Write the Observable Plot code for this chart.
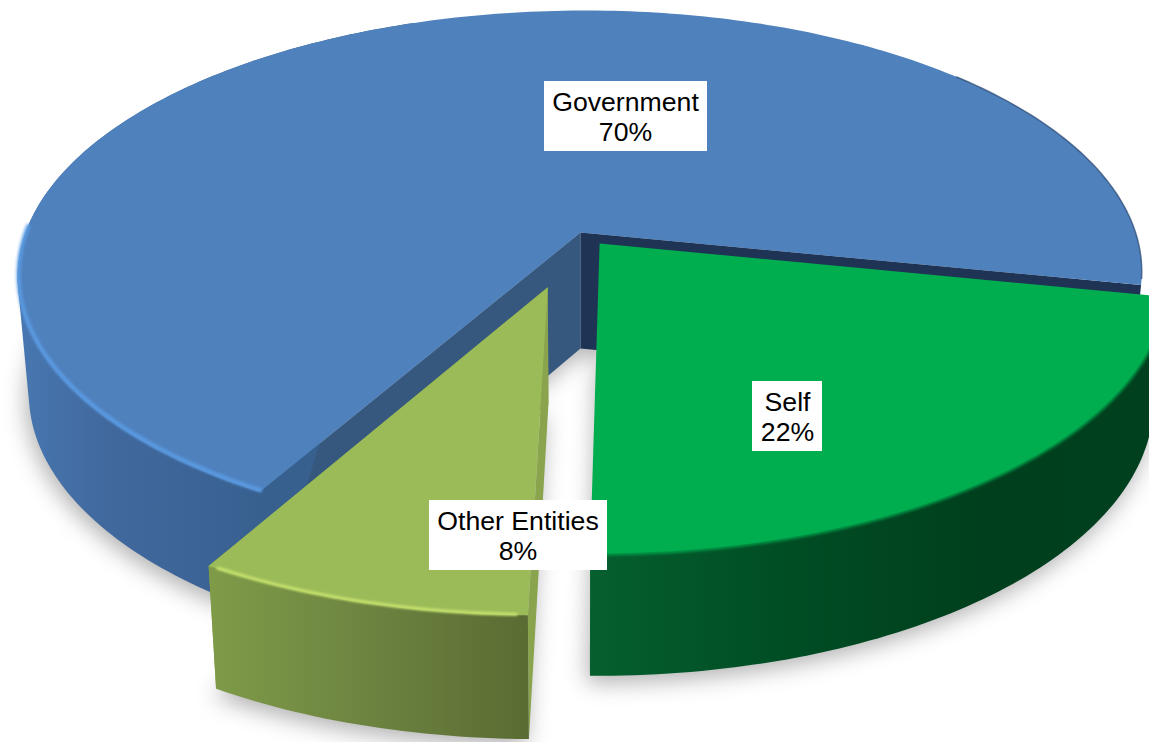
<!DOCTYPE html>
<html>
<head>
<meta charset="utf-8">
<script src="https://cdn.jsdelivr.net/npm/d3@7"></script>
<script src="https://cdn.jsdelivr.net/npm/@observablehq/plot@0.6"></script>
<style>
  html, body { margin: 0; padding: 0; background: #fff; }
  svg { display: block; }
</style>
</head>
<body>
<div id="chart"></div>
<script>
// Funding shares
const categories = ["Government", "Self", "Other Entities"];
const shares = [70, 22, 8];

// Exploded distance of each slice, as a fraction of the pie radius
const explosion = [0, 0.055, 0.213];

// Label boxes
const labelX = [625, 787, 517.5];
const labelY = [115.5, 415.5, 534.5];
const boxX = [625.5, 787, 518];
const boxY = [116, 416, 535];
const boxWidth = [163, 70, 178];
const boxHeight = 70;

// Flat, side and inner wall colours of each slice
const topColors = ["#4f81bd", "#00ae50", "#9bbb59"];
const rimColors = ["#5b9ce4", "#00a04a", "#c2de6c"];
const sideStops = [
  [[0, "#4877b1"], [0.35, "#41699e"], [1, "#38608f"]],
  [[0, "#055f2e"], [0.35, "#004d24"], [0.7, "#003f1d"], [1, "#00401e"]],
  [[0, "#7f9b48"], [0.5, "#6c8340"], [1, "#596b32"]]
];
const sideRanges = [[17, 262], [590, 1149], [210, 532]];
const wallColors = [["#1f3454", "#36587f"], ["#1f3454", "#00401e"], ["#8aa44e", "#8aa44e"]];

// Pie placement: the disc is a tilted circle seen in perspective
const view = {cx: 580, r: 555, a: 220.4, b: 232, c: -0.158, skew: -0.02, depthX: 0.98, depthY: 1.02, drop: 116};
const startAngle = 119.4;

const rad = (deg) => (deg * Math.PI) / 180;

function topPoint(u, v) {
  const w = 1 + view.c * v;
  const y = (view.a * v + view.b) / w;
  return [view.cx + (view.r * u) / w + view.skew * (y - view.b), y];
}
function lowPoint([x, y]) {
  return [
    view.cx + view.depthX * (x - view.cx),
    view.b + view.depthY * (y - view.b) + view.drop
  ];
}

// Slice angles follow directly from the shares
let cursor = startAngle;
const slices = categories.map((name, i) => {
  const from = cursor;
  const to = cursor + (shares[i] / d3.sum(shares)) * 360;
  cursor = to;
  const mid = rad((from + to) / 2);
  const ox = explosion[i] * Math.cos(mid);
  const oy = explosion[i] * Math.sin(mid);
  const at = (deg) => topPoint(ox + Math.cos(rad(deg)), oy + Math.sin(rad(deg)));
  const steps = Math.ceil(to - from);
  const arc = d3.range(steps + 1).map((k) => at(from + ((to - from) * k) / steps));
  const apex = topPoint(ox, oy);
  return {name, i, from, to, at, arc, apex};
});

const poly = (points, fill, extra = {}) =>
  Plot.line(points, {x: (d) => d[0], y: (d) => d[1], stroke: "none", curve: "linear", fill, ...extra});
const edge = (points, stroke, strokeWidth, extra = {}) =>
  Plot.line(points, {x: (d) => d[0], y: (d) => d[1], fill: "none", stroke, strokeWidth, strokeLinecap: "round", ...extra});

function arcBetween(s, a, b) {
  const n = Math.ceil(Math.abs(b - a));
  return d3.range(n + 1).map((k) => s.at(a + ((b - a) * k) / n));
}

// One blurred footprint under each slice
const shadows = slices.map((s) =>
  poly([lowPoint(s.apex), ...s.arc.map(lowPoint)].map(([x, y]) => [x - 3, y + 7]), "#000",
    {fillOpacity: 0.3, imageFilter: "blur(11px)"})
);

function sliceMarks(s) {
  const low = s.arc.map(lowPoint);
  const lowApex = lowPoint(s.apex);
  const first = s.arc[0];
  const last = s.arc[s.arc.length - 1];
  // Outer wall: the hull of the viewer-facing stretch of the rim, top and bottom
  const front = arcBetween(s, s.from, Math.min(s.to, s.from + 130));
  const side = poly(d3.polygonHull([...front, ...front.map(lowPoint)]), `url(#side-${s.i})`);
  const wallStart = poly([s.apex, last, low[low.length - 1], lowApex], wallColors[s.i][0]);
  const wallEnd = poly([s.apex, first, low[0], lowApex], wallColors[s.i][1]);
  const face = poly([s.apex, ...s.arc], topColors[s.i]);
  return {walls: [wallStart, wallEnd], side, face};
}
const [gov, self, other] = slices.map(sliceMarks);

// Rim highlights lying just inside each front edge
const govRim = edge(arcBetween(slices[0], slices[0].from, 181).map(([x, y]) => [x + 1, y - 2]), rimColors[0], 4, {imageFilter: "blur(1.4px)"});
const govBackEdge = edge(arcBetween(slices[0], 318, 370), "#2f4d75", 1.5, {strokeOpacity: 0.75, imageFilter: "blur(0.7px)"});
const selfRim = edge(arcBetween(slices[1], slices[1].from, slices[1].to), rimColors[1], 4, {imageFilter: "blur(1.5px)"});
const otherRim = edge(arcBetween(slices[2], slices[2].from + 1, slices[2].to - 1).map(([x, y]) => [x, y - 1]), rimColors[2], 3.5, {imageFilter: "blur(1.3px)"});

const labels = slices.map((s, i) => ({
  text: `${s.name}\n${shares[i]}%`,
  x: labelX[i],
  y: labelY[i],
  bx: boxX[i],
  by: boxY[i],
  w: boxWidth[i]
}));

// Gradient definitions for the side walls
const gradientDefs = () => {
  const defs = d3.create("svg:defs");
  sideStops.forEach((stops, i) => {
    const g = defs.append("linearGradient")
      .attr("id", `side-${i}`)
      .attr("gradientUnits", "userSpaceOnUse")
      .attr("x1", sideRanges[i][0]).attr("x2", sideRanges[i][1])
      .attr("y1", 0).attr("y2", 0);
    stops.forEach(([offset, color]) => g.append("stop").attr("offset", offset).attr("stop-color", color));
  });
  return defs.node();
};

const chart = Plot.plot({
  width: 1149,
  height: 742,
  margin: 0,
  x: {domain: [0, 1149], range: [0, 1149], axis: null},
  y: {domain: [0, 742], range: [0, 742], axis: null},
  style: {background: "#fff"},
  marks: [
    gradientDefs,
    ...shadows,
    ...gov.walls,
    gov.side,
    gov.face,
    govRim,
    govBackEdge,
    self.side,
    selfRim,
    self.face,
    ...other.walls,
    other.side,
    other.face,
    otherRim,
    Plot.rect(labels, {
      x1: (d) => d.bx - d.w / 2,
      x2: (d) => d.bx + d.w / 2,
      y1: (d) => d.by - boxHeight / 2,
      y2: (d) => d.by + boxHeight / 2,
      fill: "#fff"
    }),
    Plot.text(labels, {
      x: "x",
      y: "y",
      text: "text",
      fill: "#000",
      fontSize: 26.67,
      fontFamily: "'Liberation Sans', Arial, sans-serif",
      lineHeight: 1.125,
      textAnchor: "middle"
    })
  ]
});
document.getElementById("chart").appendChild(chart);
</script>
</body>
</html>
